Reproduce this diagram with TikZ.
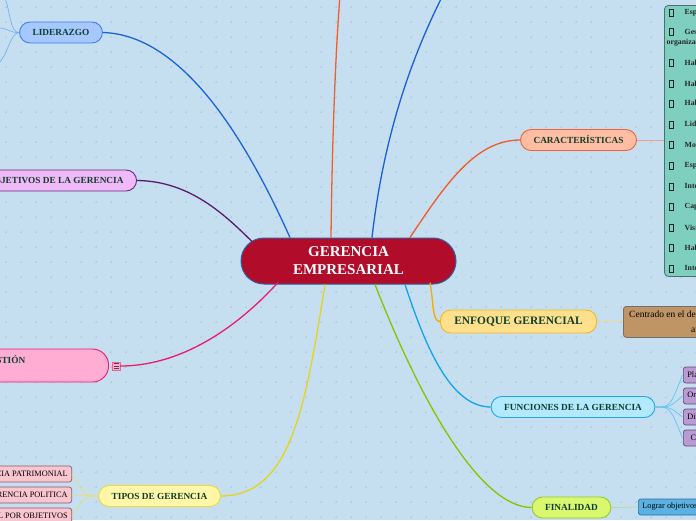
\documentclass[tikz,border=0pt]{standalone}
\usepackage{fontspec}
\setmainfont{Liberation Serif}
\usetikzlibrary{calc}
\definecolor{bg}{HTML}{C5DFF0}
\definecolor{dotc}{HTML}{B2CDE2}
\definecolor{tgreen}{HTML}{0E3F2C}
\definecolor{cred}{HTML}{B20C2B}
\definecolor{cborder}{HTML}{2F5E9E}
\definecolor{lidf}{HTML}{A6C8FF}\definecolor{lidb}{HTML}{3C7FE6}\definecolor{lidc}{HTML}{1A63D8}\definecolor{lidlink}{HTML}{7AB0F0}
\definecolor{objf}{HTML}{F0B9F7}\definecolor{objb}{HTML}{6B2C7E}\definecolor{objc}{HTML}{5B1A6B}
\definecolor{gesf}{HTML}{FFADD3}\definecolor{gesb}{HTML}{EA1C6E}
\definecolor{tipf}{HTML}{FFF6A8}\definecolor{tipb}{HTML}{E9DB3A}\definecolor{tipc}{HTML}{E5D41E}\definecolor{tipk}{HTML}{F9C6CF}\definecolor{tipkb}{HTML}{8C5A66}\definecolor{tiplink}{HTML}{E8E070}
\definecolor{carf}{HTML}{FFBDA3}\definecolor{carb}{HTML}{F0603A}\definecolor{carc}{HTML}{F05A2A}\definecolor{boxf}{HTML}{7ECFC0}\definecolor{boxb}{HTML}{4F6F6A}\definecolor{carlink}{HTML}{F0A090}
\definecolor{enff}{HTML}{FFE08C}\definecolor{enfb}{HTML}{F5B521}\definecolor{enfc}{HTML}{F5AA00}\definecolor{brownf}{HTML}{BF9566}\definecolor{brownb}{HTML}{707070}\definecolor{enflink}{HTML}{EEDC90}
\definecolor{funf}{HTML}{B3E9FF}\definecolor{funb}{HTML}{1FA7EC}\definecolor{func}{HTML}{12A3EA}\definecolor{funk}{HTML}{B99AD2}\definecolor{funkb}{HTML}{5D4A70}\definecolor{funlink}{HTML}{66C4F2}
\definecolor{finf}{HTML}{D9F870}\definecolor{finb}{HTML}{94CB24}\definecolor{finc}{HTML}{84C400}\definecolor{fink}{HTML}{5AB1E2}\definecolor{finkb}{HTML}{2D6C9D}\definecolor{finlink}{HTML}{B4D890}
\definecolor{toporange}{HTML}{F0602E}\definecolor{topblue}{HTML}{1A5FD6}
\tikzset{
  pill/.style={draw, line width=0.9pt, rounded corners=10.5pt, minimum height=21pt,
    inner xsep=13pt, inner ysep=0pt, text=tgreen,
    font=\fontsize{9.3}{10.5}\selectfont\bfseries},
  conn/.style={line width=1.3pt},
  sublink/.style={line width=0.7pt},
  leaf/.style={draw, line width=0.7pt, rounded corners=2.5pt, minimum height=16pt,
    inner xsep=4pt, inner ysep=0pt, font=\fontsize{8.3}{9.5}\selectfont},
  itemtxt/.style={inner sep=0pt, anchor=west, font=\fontsize{7.8}{9}\selectfont\bfseries, text=black!85}
}
\begin{document}
\begin{tikzpicture}[x=1pt,y=-1pt]
\useasboundingbox (0,0) rectangle (696,520);
\fill[bg] (0,0) rectangle (696,520);
\foreach \i in {0,...,46}{\foreach \j in {0,...,34}{
  \draw[dotc,line width=0.5pt] (\i*15+6-1.3,\j*15+7) -- ++(2.6,0) (\i*15+6,\j*15+7-1.3) -- ++(0,2.6);}}

% centre
\node[draw=cborder, fill=cred, line width=1pt, rounded corners=23pt, minimum width=215pt,
  minimum height=46pt, text=white, align=center,
  font=\fontsize{15}{18}\selectfont\bfseries] (gc) at (348.5,261) {GERENCIA\\EMPRESARIAL};

% main branches
\node[pill, fill=lidf, draw=lidb] (lid) at (61,32.5) {LIDERAZGO};
\node[pill, fill=objf, draw=objb, anchor=east] (obj) at (137,180.5) {OBJETIVOS DE LA GERENCIA};
\node[draw=gesb, fill=gesf, line width=0.9pt, rounded corners=16pt, minimum width=200pt,
  minimum height=33pt, anchor=east] (gest) at (109,365.5) {};
\node[inner sep=0pt, anchor=base east, text=tgreen, font=\fontsize{9.3}{10.5}\selectfont\bfseries] (gestt) at (25.5,363.5) {GESTIÓN};
\node[draw=gesb!70, fill=gesf, line width=0.4pt, minimum size=8pt, inner sep=0pt] (gicon) at (116,366) {};
\draw[black!70, line width=0.5pt] (113.5,363.5) -- (118.5,363.5) (113.5,366) -- (118.5,366) (113.5,368.5) -- (118.5,368.5);
\node[pill, fill=tipf, draw=tipb] (tip) at (159.5,496) {TIPOS DE GERENCIA};
\node[pill, fill=carf, draw=carb] (car) at (578.5,140) {CARACTERÍSTICAS};
\node[pill, fill=enff, draw=enfb, minimum height=23pt, inner xsep=14pt,
  font=\fontsize{11.4}{12.5}\selectfont\bfseries] (enf) at (518.5,321.5) {ENFOQUE GERENCIAL};
\node[pill, fill=funf, draw=funb] (fun) at (573,407) {FUNCIONES DE LA GERENCIA};
\node[pill, fill=finf, draw=finb] (fin) at (571.5,507.5) {FINALIDAD};

% free ends
\coordinate (topo) at (340,-5);
\coordinate (topb) at (443,-5);
\coordinate (l1) at (5,-2);
\coordinate (l2) at (-2,28);
\coordinate (l3) at (-2,64);

% connectors from centre
\draw[conn, lidc] ([xshift=-58.5pt]gc.north) .. controls (255,160) and (190,35) .. (lid.east);
\draw[conn, objc] ([xshift=-96.5pt,yshift=-4pt]gc.north) .. controls (225,215) and (190,181) .. (obj.east);
\draw[conn, gesb] ([xshift=-70.5pt,yshift=2pt]gc.south) .. controls (230,335) and (175,366) .. (gicon.east);
\draw[conn, tipc] ([xshift=-23.5pt]gc.south) .. controls (305,410) and (290,496) .. (tip.east);
\draw[conn, toporange] ([xshift=-17.5pt]gc.north) .. controls (332,150) and (335,60) .. (topo);
\draw[conn, topblue] ([xshift=23.5pt]gc.north) .. controls (382,150) and (405,70) .. (topb);
\draw[conn, carc] ([xshift=61.5pt]gc.north) .. controls (445,185) and (475,140) .. (car.west);
\draw[conn, enfc] ([xshift=81.5pt,yshift=2pt]gc.south) .. controls (434,305) and (432,321) .. (enf.west);
\draw[conn, func] ([xshift=56.5pt]gc.south) .. controls (425,345) and (450,407) .. (fun.west);
\draw[conn, finc] ([xshift=26.5pt]gc.south) .. controls (420,400) and (480,507.5) .. (fin.west);

% LIDERAZGO sub links
\draw[sublink, lidlink] (lid.west) .. controls (10,33) and (10,10) .. (l1);
\draw[sublink, lidlink] (lid.west) .. controls (10,33) and (8,28) .. (l2);
\draw[sublink, lidlink] (lid.west) .. controls (10,33) and (8,55) .. (l3);

% TIPOS children
\node[leaf, fill=tipk, draw=tipkb, anchor=east] (t1) at (72,474) {GERENCIA PATRIMONIAL};
\node[leaf, fill=tipk, draw=tipkb, anchor=east] (t2) at (72,495) {GERENCIA POLITICA};
\node[leaf, fill=tipk, draw=tipkb, anchor=east] (t3) at (72,516) {GERENCIAL POR OBJETIVOS};
\foreach \n in {t1,t2,t3}{\draw[sublink, tiplink] (tip.west) .. controls (85,496) and (85,496) .. (\n.east);}

% CARACTERISTICAS box
\node[draw=boxb, fill=boxf, line width=0.8pt, rounded corners=4pt, anchor=north west,
  minimum width=70pt, minimum height=271pt] (cbox) at (664,5) {};
\draw[sublink, carlink] (car.east) -- (car.east -| cbox.west);
\foreach \yy/\itxt in {13/Espíritu emprendedor, 32/Gestión, 63/Habilidad técnica, 84/Habilidad humana,
  104/Habilidad conceptual, 125/Liderazgo, 145/Motivación, 166/Espíritu de equipo, 187/Integridad,
  207/Capacidad de decisión, 228/Visión, 248/Habilidad comunicativa, 269/Inteligencia emocional}{
  \draw[black!85, line width=0.5pt] (669,\yy-3.5) rectangle (673,\yy+3.5);
  \node[itemtxt] (ci\yy) at (684.5,\yy) {\itxt};}
\node[itemtxt] (ci43) at (666.5,43) {organizacional};

% ENFOQUE child
\node[draw=brownb, fill=brownf, line width=0.8pt, rounded corners=3pt, anchor=north west,
  minimum width=90pt, minimum height=31pt] (brown) at (623,306) {};
\node[inner sep=0pt, anchor=west, font=\fontsize{9.5}{11}\selectfont] (bt1) at (629,315.5) {Centrado en el desempeño};
\node[inner sep=0pt, anchor=west, font=\fontsize{9.5}{11}\selectfont] (bt2) at (691,329.5) {ambiental};
\draw[sublink, enflink] (enf.east) -- (enf.east -| brown.west);

% FUNCIONES children
\node[leaf, fill=funk, draw=funkb, anchor=west, minimum width=40pt] (f1) at (683,375) {Planificación};
\node[leaf, fill=funk, draw=funkb, anchor=west, minimum width=40pt] (f2) at (683,396) {Organización};
\node[leaf, fill=funk, draw=funkb, anchor=west, minimum width=40pt] (f3) at (683,417) {Dirección};
\node[leaf, fill=funk, draw=funkb, anchor=west, minimum width=40pt] (f4) at (683,438) {Control};
\foreach \n in {f1,f2,f3,f4}{\draw[sublink, funlink] (fun.east) .. controls (670,407) and (670,407) .. ([xshift=-0.5pt]\n.west);}

% FINALIDAD child
\node[leaf, fill=fink, draw=finkb, anchor=west] (fk) at (638,507) {Lograr objetivos de la empresa};
\draw[sublink, finlink] (fin.east) -- (fk.west);
\end{tikzpicture}
\end{document}
